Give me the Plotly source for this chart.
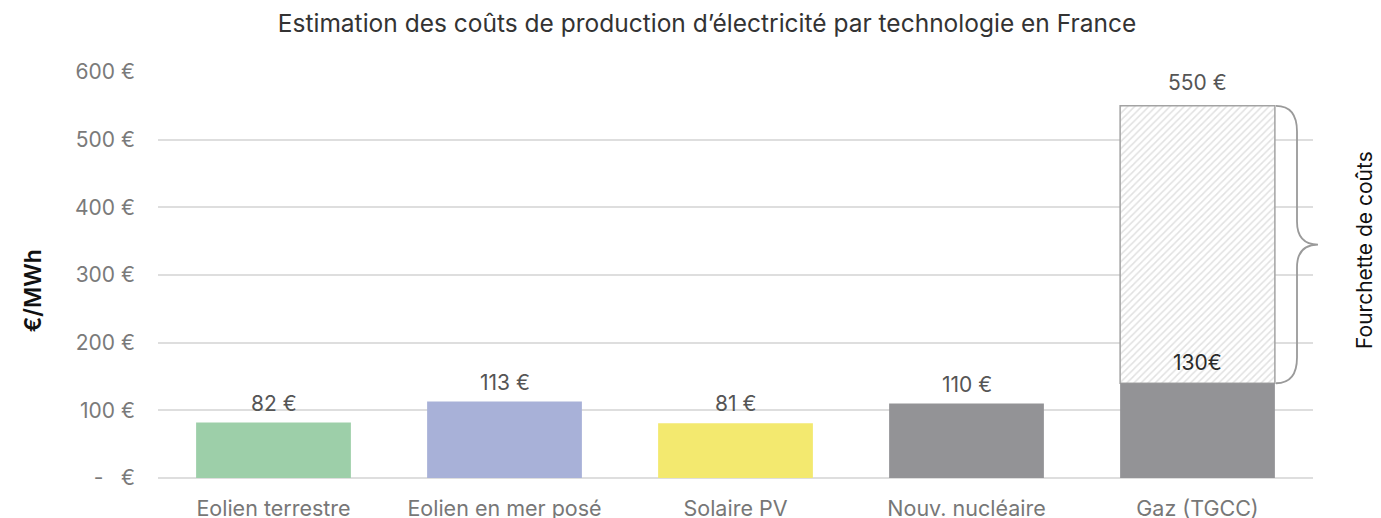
import plotly.graph_objects as go

categories = ["Eolien terrestre", "Eolien en mer posé", "Solaire PV", "Nouv. nucléaire", "Gaz (TGCC)"]
bar_values = [82, 113, 81, 110, 140]
bar_labels = ["82 €", "113 €", "81 €", "110 €", "130€"]
bar_colors = ["#9dcfa9", "#a8b1d8", "#f3e96f", "#939396", "#939396"]
gas_high = 550
gas_high_label = "550 €"
y_tickvals = [0, 100, 200, 300, 400, 500, 600]
y_ticktext = ["-   €", "100 €", "200 €", "300 €", "400 €", "500 €", "600 €"]

OFF = 8  # page body margin
L, R, T, B = 150, 76, 64, 48
W, H = 1381, 518
PW = W - L - R

def xp(px):
    return (px - OFF - L) / PW

fig = go.Figure()

# hatched range bar for gas
fig.add_trace(go.Bar(
    x=[categories[4]], y=[gas_high - bar_values[4]], base=[bar_values[4]],
    width=0.67,
    marker=dict(color="white", line=dict(color="#a3a3a3", width=1.5),
                pattern=dict(shape="/", fgcolor="#c4c4c4", bgcolor="white", size=5, solidity=0.3)),
    hoverinfo="skip", showlegend=False,
))

fig.add_trace(go.Bar(
    x=categories, y=bar_values, width=0.67,
    marker=dict(color=bar_colors, line=dict(width=0)),
    showlegend=False,
))

annotations = []
for i, (c, v, lab) in enumerate(zip(categories, bar_values, bar_labels)):
    annotations.append(dict(
        x=c, y=v, xref="x", yref="y", text=lab, showarrow=False,
        yanchor="bottom", yshift=5 if i < 4 else 6,
        font=dict(size=21, color="#555555" if i < 4 else "#2a2a2a"),
    ))
annotations.append(dict(
    x=categories[4], y=gas_high, xref="x", yref="y", text=gas_high_label,
    showarrow=False, yanchor="bottom", yshift=9,
    font=dict(size=21, color="#555555"),
))
annotations.append(dict(
    x=xp(33), y=276, xref="paper", yref="y", text="€/MWh", textangle=-90,
    xanchor="center", yanchor="middle",
    showarrow=False, font=dict(size=23, color="#111111", weight=600),
))
annotations.append(dict(
    x=xp(1365), y=337, xref="paper", yref="y", text="Fourchette de coûts", textangle=-90,
    xanchor="center", yanchor="middle",
    showarrow=False, font=dict(size=21, color="#111111"),
))

a, b, c = xp(1276), xp(1297), xp(1318)
lo, hi = bar_values[4], gas_high
mid = (lo + hi) / 2
path = (f"M {a},{hi} Q {b},{hi} {b},{hi-38} L {b},{mid+34} "
        f"Q {b},{mid} {c},{mid} Q {b},{mid} {b},{mid-34} "
        f"L {b},{lo+38} Q {b},{lo} {a},{lo}")

fig.update_layout(
    width=W, height=H,
    margin=dict(l=L, r=R, t=T, b=B),
    paper_bgcolor="white", plot_bgcolor="white",
    barmode="overlay",
    font=dict(family="Inter, Roboto, sans-serif", color="#777777"),
    title=dict(text="Estimation des coûts de production d’électricité par technologie en France",
               x=(707 - OFF) / W, xanchor="center", y=1 - 15 / H, yanchor="middle",
               font=dict(size=24.5, color="#333333")),
    xaxis=dict(showgrid=False, showline=False, ticks="", tickfont=dict(size=21.5, color="#777777"),
               ticklabelstandoff=15, automargin=False,
               categoryorder="array", categoryarray=categories),
    yaxis=dict(range=[0, 600], tickvals=y_tickvals, ticktext=y_ticktext,
               showgrid=True, gridcolor="#dedede", gridwidth=1.5,
               zeroline=True, zerolinecolor="#dedede", zerolinewidth=1.5,
               tickfont=dict(size=21, color="#7a7a7a"), ticklabelstandoff=22,
               showline=False, ticks="", automargin=False),
    annotations=annotations,
    shapes=[dict(type="path", path=path, xref="paper", yref="y",
                 line=dict(color="#9a9a9a", width=1.8))],
)

fig.write_html("out.html")
